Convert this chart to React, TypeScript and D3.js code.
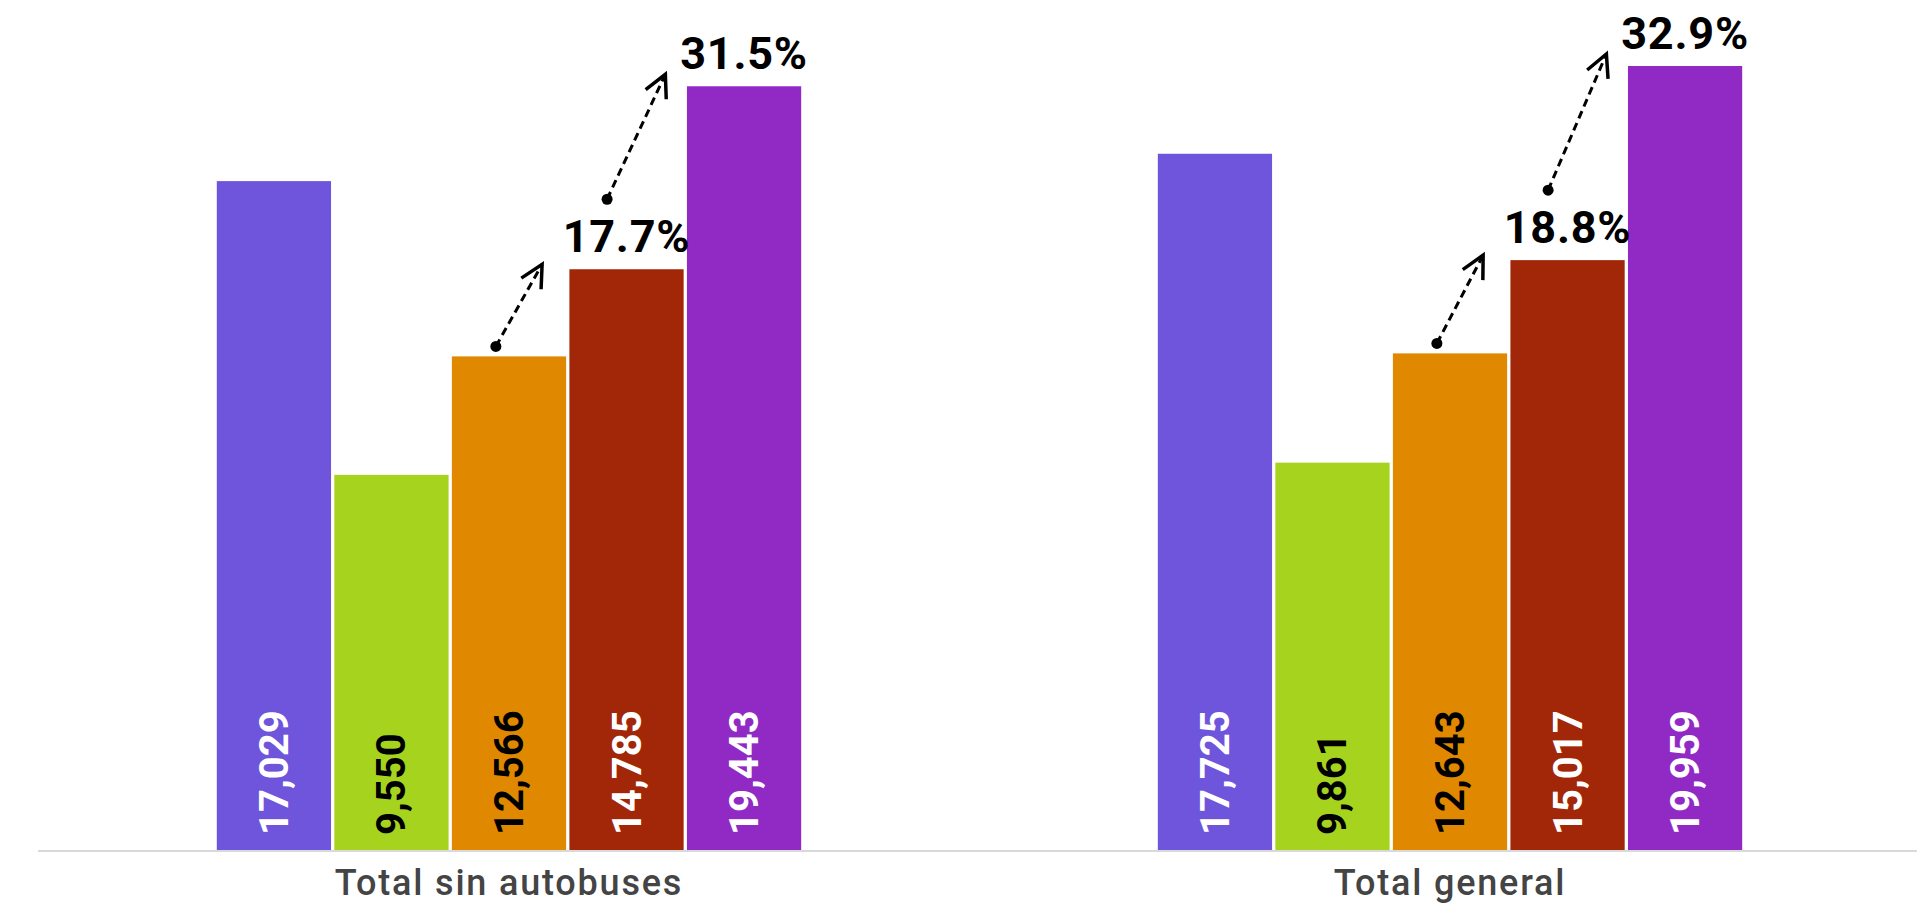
import React from 'react'
import { scaleBand, scaleLinear } from 'd3'

const categories = ['Total sin autobuses', 'Total general']
const series = ['s1', 's2', 's3', 's4', 's5']
const seriesColors = ['#6E55DB', '#A6D31E', '#DF8800', '#A12708', '#912AC5']
const labelColors = ['#fff', '#000', '#000', '#fff', '#fff']
const valuesSinAutobuses = [17029, 9550, 12566, 14785, 19443]
const valuesGeneral = [17725, 9861, 12643, 15017, 19959]
const pctSinAutobuses = ['17.7%', '31.5%']
const pctGeneral = ['18.8%', '32.9%']

const W = 1917
const H = 907

const App = () => {
    const rows = [
        { name: categories[0], values: valuesSinAutobuses, pct: pctSinAutobuses },
        { name: categories[1], values: valuesGeneral, pct: pctGeneral },
    ]

    const x0 = scaleBand().domain(categories).range([38, 1921]).paddingInner(0.379).paddingOuter(0.19)
    const x1 = scaleBand().domain(series).range([0, x0.bandwidth()]).paddingInner(0.028)
    const y = scaleLinear().domain([0, 20000]).range([850, 64.4])
    const bw = x1.bandwidth()

    // arrow from one bar to the next, the % label sits above the target bar
    const arrow = (sx: number, sy: number, tx: number, ty: number, key: string) => {
        const ang = Math.atan2(sy - ty, sx - tx)
        const a = 27 * Math.PI / 180
        const len = 25
        const p1 = [tx + len * Math.cos(ang - a), ty + len * Math.sin(ang - a)]
        const p2 = [tx + len * Math.cos(ang + a), ty + len * Math.sin(ang + a)]
        return (
            <g key={key}>
                <line x1={sx} y1={sy} x2={tx} y2={ty} stroke="#000" strokeWidth={3} strokeDasharray="8,5" />
                <circle cx={sx} cy={sy} r={5.5} fill="#000" />
                <polyline points={`${p1[0]},${p1[1]} ${tx},${ty} ${p2[0]},${p2[1]}`} fill="none" stroke="#000" strokeWidth={3.5} />
            </g>
        )
    }

    return (
        <svg width={W} height={H} style={{ position: 'absolute', left: 0, top: 0, display: 'block', background: '#fff' }}>
            {rows.map(row => {
                const gx = x0(row.name) as number
                const bx = (i: number) => gx + (x1(series[i]) as number)
                return (
                    <g key={row.name}>
                        {row.values.map((v, i) => (
                            <rect key={i} x={bx(i)} y={y(v)} width={bw} height={y(0) - y(v)} fill={seriesColors[i]} />
                        ))}
                        {row.values.map((v, i) => {
                            const cx = bx(i) + bw / 2
                            return (
                                <text key={'v' + i} transform={`translate(${cx + 14},${y(0) - 15}) rotate(-90)`}
                                    fontFamily="Roboto" fontWeight={700} fontSize={40} fill={labelColors[i]}>
                                    {v.toLocaleString('en-US')}
                                </text>
                            )
                        })}
                        {arrow(bx(2) + 0.385 * bw, y(row.values[2]) - 10, bx(2) + 0.79 * bw, y(row.values[3]) - 5, 'a1')}
                        {arrow(bx(3) + 0.33 * bw, y(row.values[3]) - 70, bx(3) + 0.84 * bw, y(row.values[4]) - 12, 'a2')}
                        {row.pct.map((p, k) => (
                            <text key={'p' + k} x={bx(k + 3) + bw / 2} y={y(row.values[k + 3]) - 17} textAnchor="middle"
                                fontFamily="Roboto" fontWeight={700} fontSize={45} letterSpacing={0.8} fill="#000">
                                {p}
                            </text>
                        ))}
                        <text x={gx + x0.bandwidth() / 2} y={895} textAnchor="middle" fontFamily="Roboto" fontWeight={500}
                            fontSize={36} letterSpacing={1.8} fill="#444">
                            {row.name}
                        </text>
                    </g>
                )
            })}
            <line x1={38} x2={1921} y1={851} y2={851} stroke="#d9d9d9" strokeWidth={2} />
        </svg>
    )
}

export default App
